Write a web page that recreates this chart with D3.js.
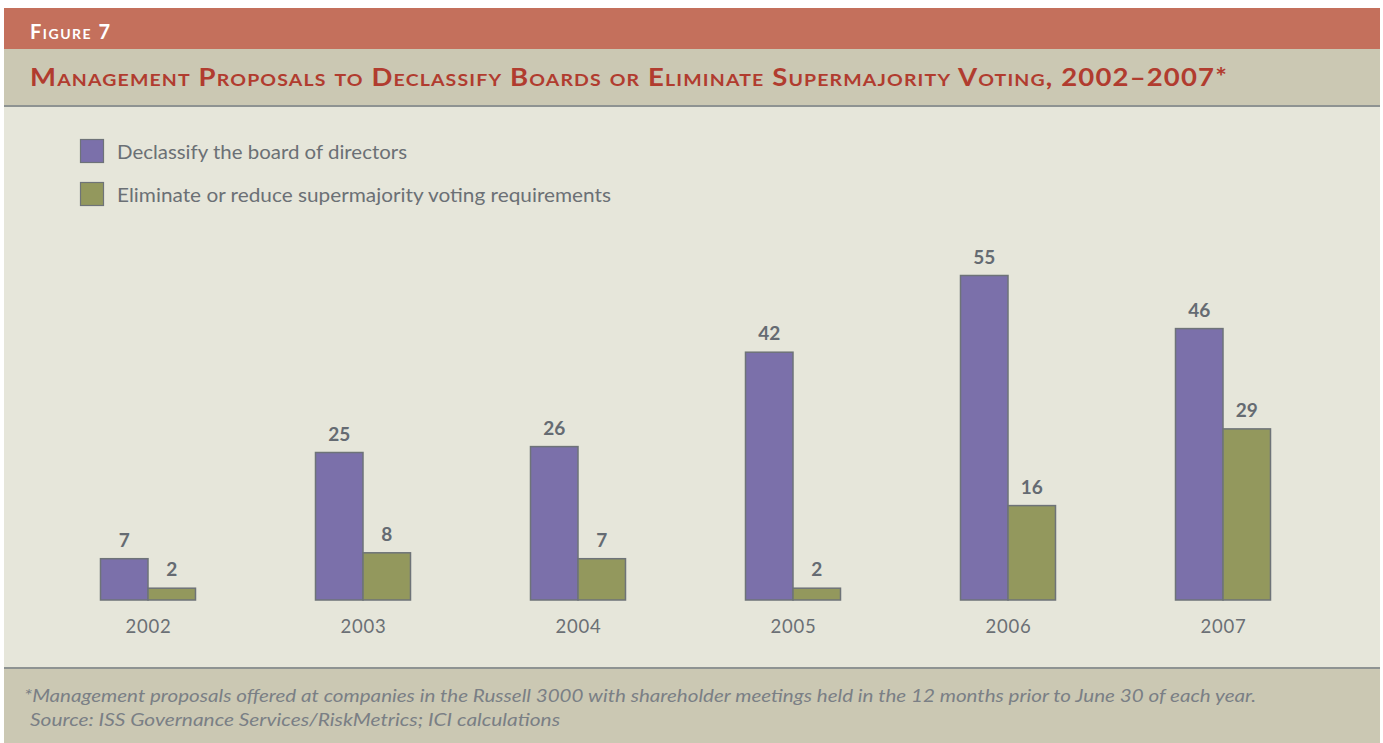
<!DOCTYPE html>
<html><head><meta charset="utf-8">
<script src="https://cdn.jsdelivr.net/npm/d3@7"></script>
<style>html,body{margin:0;padding:0;background:#fff;}</style>
</head><body>
<svg id="chart" width="1383" height="743"></svg>
<script>
const years = ["2002","2003","2004","2005","2006","2007"];
const declassify = [7,25,26,42,55,46];
const supermajority = [2,8,7,2,16,29];
const seriesNames = ["Declassify the board of directors","Eliminate or reduce supermajority voting requirements"];
const seriesColors = ["#7b70aa","#93985d"];
const figureLabel = "Figure 7";
const title = "Management Proposals to Declassify Boards or Eliminate Supermajority Voting, 2002\u20132007*";
const notes = ["*Management proposals offered at companies in the Russell 3000 with shareholder meetings held in the 12 months prior to June 30 of each year.",
               "Source: ISS Governance Services/RiskMetrics; ICI calculations"];

const svg = d3.select("#chart");
const W = 1383;
// bands
svg.append("rect").attr("x",4).attr("y",8).attr("width",W-7).attr("height",41).attr("fill","#c4705c");
svg.append("rect").attr("x",4).attr("y",49).attr("width",W-7).attr("height",56).attr("fill","#cbc8b3");
svg.append("rect").attr("x",4).attr("y",105).attr("width",W-7).attr("height",2).attr("fill","#8e9392");
svg.append("rect").attr("x",4).attr("y",107).attr("width",W-7).attr("height",560).attr("fill","#e6e6da");
svg.append("rect").attr("x",4).attr("y",667).attr("width",W-7).attr("height",2).attr("fill","#8e9392");
svg.append("rect").attr("x",4).attr("y",669).attr("width",W-7).attr("height",74).attr("fill","#cbc8b3");

const fontMain = "'Lato','Open Sans',sans-serif";
svg.append("text").attr("x",30).attr("y",39).text(figureLabel)
  .attr("fill","#ffffff").attr("font-family",fontMain).attr("font-weight","bold")
  .attr("font-size",20).style("font-variant","small-caps").attr("letter-spacing",1.5);
svg.append("text").attr("x",30).attr("y",86).text(title)
  .attr("fill","#b13c2f").attr("font-family",fontMain).attr("font-weight","bold")
  .attr("font-size",24).style("font-variant","small-caps").attr("letter-spacing",1)
  .attr("textLength",1198).attr("lengthAdjust","spacingAndGlyphs");

// legend
const legendLens = [290, 494];
const legend = svg.append("g");
seriesNames.forEach((n,i)=>{
  const y = 139 + i*43;
  legend.append("rect").attr("x",80.5).attr("y",y+0.5).attr("width",23).attr("height",23)
    .attr("fill",seriesColors[i]).attr("stroke","#6e7378").attr("stroke-width",1.2);
  legend.append("text").attr("x",117).attr("y",y+20).text(n)
    .attr("fill","#6b7075").attr("font-family",fontMain).attr("font-size",20)
    .attr("textLength",legendLens[i]).attr("lengthAdjust","spacingAndGlyphs");
});

// scales
const x = d3.scalePoint().domain(years).range([148,1223]);
const y = d3.scaleLinear().domain([0,60]).range([600,246]);
const bw = 47.5;
const data = years.map((yr,i)=>({yr, vals:[declassify[i], supermajority[i]]}));

const g = svg.append("g");
data.forEach(d=>{
  d.vals.forEach((v,j)=>{
    const x0 = x(d.yr) + (j===0 ? -bw : 0);
    g.append("rect").attr("x",x0).attr("y",y(v)).attr("width",bw).attr("height",y(0)-y(v))
      .attr("fill",seriesColors[j]).attr("stroke","#6e7378").attr("stroke-width",1.5);
    g.append("text").attr("x",x0+bw/2).attr("y",y(v)-12).text(v)
      .attr("text-anchor","middle").attr("fill","#656b72").attr("font-family",fontMain)
      .attr("font-weight","bold").attr("font-size",19);
  });
});

// x axis labels
const xAxis = d3.axisBottom(x).tickSize(0).tickPadding(0);
const ax = svg.append("g").attr("transform","translate(0,600)").call(xAxis);
ax.select(".domain").remove();
ax.selectAll("text").attr("y",33).attr("dy",0).attr("fill","#6b7075")
  .attr("font-family",fontMain).attr("font-size",18.5).attr("letter-spacing",0.8);

// notes
const noteX = [24, 30];
const noteLens = [1232, 530];
notes.forEach((t,i)=>{
  svg.append("text").attr("x",noteX[i]).attr("y",702+i*24).text(t)
    .attr("fill","#7a7f85").attr("font-family",fontMain).attr("font-style","italic")
    .attr("font-size",18).attr("textLength",noteLens[i]).attr("lengthAdjust","spacingAndGlyphs");
});
</script>
</body></html>
